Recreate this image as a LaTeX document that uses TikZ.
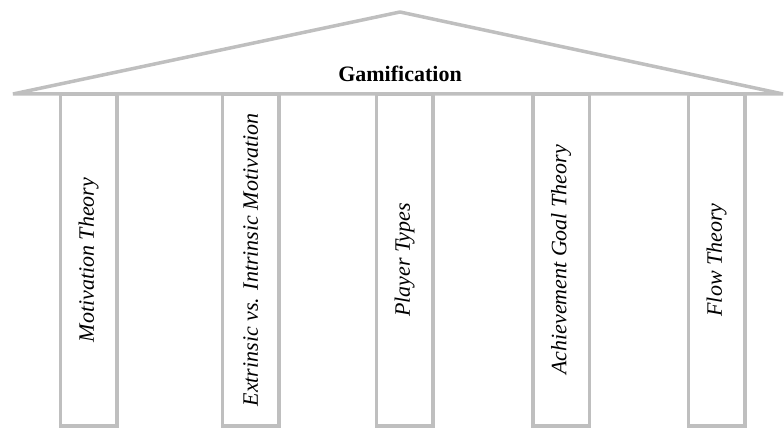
\documentclass[tikz,border=0pt]{standalone}
\usepackage{fontspec}
\setmainfont{Liberation Serif}
\usetikzlibrary{positioning}
\definecolor{pillargray}{RGB}{191,191,191}

\tikzset{
  roof/.style={draw=pillargray, line width=3.5pt, line join=bevel},
  pillar/.style={draw=pillargray, line width=3.5pt, minimum width=56.5pt, minimum height=332pt, inner sep=0pt},
  pillarlabel/.style={rotate=90, font=\fontsize{22}{26}\selectfont\itshape},
}

\begin{document}
\begin{tikzpicture}[x=1pt,y=-1pt]
\useasboundingbox (0,0) rectangle (784,430);
% roof
\coordinate (eaveL) at (13,94);
\coordinate (apex) at (400,12);
\coordinate (eaveR) at (783,94);
\draw[style=roof] (eaveL) -- (apex) -- (eaveR) -- cycle;
\node[font=\fontsize{22}{26}\selectfont\bfseries, anchor=base] (title) at (400,82) {Gamification};
% pillars
\node[pillar] (p1) at (88.5,260) {};
\node[pillar] (p2) at (250.8,260) {};
\node[pillar] (p3) at (404.7,260) {};
\node[pillar] (p4) at (561,260) {};
\node[pillar] (p5) at (716.6,260) {};
\node[pillarlabel] (t1) at (p1) {Motivation Theory};
\node[pillarlabel] (t2) at (p2) {Extrinsic vs. Intrinsic Motivation};
\node[pillarlabel] (t3) at (p3) {Player Types};
\node[pillarlabel] (t4) at (p4) {Achievement Goal Theory};
\node[pillarlabel] (t5) at (p5) {Flow Theory};
\end{tikzpicture}
\end{document}
